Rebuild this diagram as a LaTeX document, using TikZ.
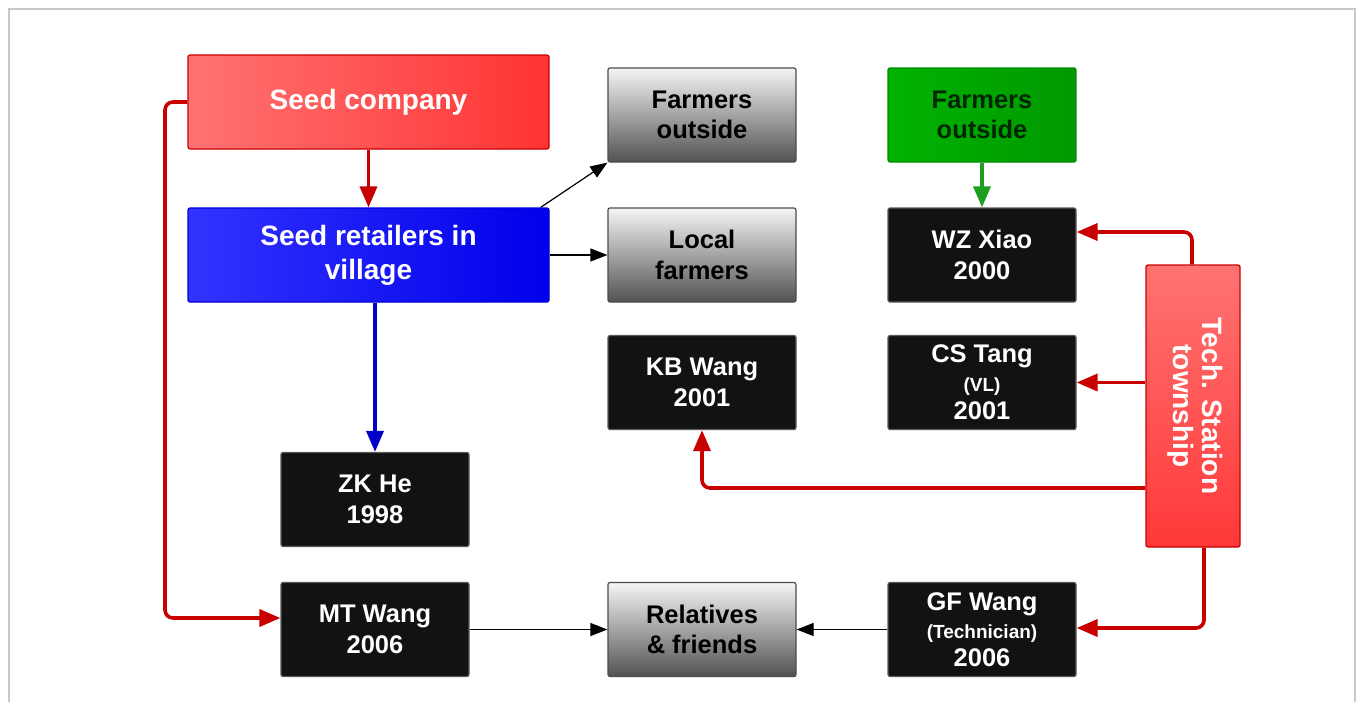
\documentclass[tikz,border=0pt]{standalone}
\usepackage{fontspec}
\setmainfont{Liberation Sans}
\usetikzlibrary{arrows.meta,calc}
\definecolor{linkred}{HTML}{C80000}
\definecolor{linkblue}{HTML}{0000C8}
\definecolor{linkgreen}{HTML}{1E9E1E}
\definecolor{framegrey}{HTML}{C8C8C8}
\begin{document}
\begin{tikzpicture}[x=1pt,y=-1pt,
  box/.style={rectangle,rounded corners=2pt,line width=1.2pt,align=center,
    inner sep=0pt,font=\bfseries\fontsize{25.5}{30.5}\selectfont},
  smallbox/.style={box,minimum width=188pt,minimum height=94pt},
  bigbox/.style={box,minimum width=361pt,minimum height=94pt,
    font=\bfseries\fontsize{28}{34}\selectfont,text=white},
  darkbox/.style={smallbox,fill=black!93,draw=black!65,text=white},
  greybox/.style={smallbox,top color=black!4,bottom color=black!68,draw=black!70,text=black},
  thicktip/.style={-{Triangle[length=21pt,width=17pt]}},
  redlink/.style={draw=linkred,line width=3.6pt,rounded corners=8pt,thicktip},
  thinlink/.style={draw=black,line width=1.2pt,-{Triangle[length=17pt,width=13pt]}}
]
\useasboundingbox (0,0) rectangle (1356,702);
% outer frame
\draw[framegrey,line width=2pt] (8.5,702) -- (8.5,8.5) -- (1354.5,8.5) -- (1354.5,702);

% boxes
\node[bigbox,left color=red!55!white,right color=red!80!white,draw=linkred] (sc) at (368.5,102) {Seed company};
\node[bigbox,left color=blue!80!white,right color=blue!92!black,draw=blue!85!black] (ret) at (368.5,255) {Seed retailers in\\village};
\node[greybox] (fo) at (702,115) {Farmers\\outside};
\node[greybox] (lf) at (702,255) {Local\\farmers};
\node[smallbox,left color=green!70!black,right color=green!60!black,draw=green!55!black,text=black!85!green] (fg) at (982,115) {Farmers\\outside};
\node[darkbox] (wz) at (982,255) {WZ Xiao\\2000};
\node[darkbox] (kb) at (702,382.5) {KB Wang\\2001};
\node[darkbox] (cs) at (982,382.5) {CS Tang\\[-2pt]{\fontsize{19}{26}\selectfont (VL)}\\[-2pt]2001};
\node[darkbox] (zk) at (375,499.5) {ZK He\\1998};
\node[darkbox] (mt) at (375,629.5) {MT Wang\\2006};
\node[greybox] (rel) at (702,629.5) {Relatives\\\& friends};
\node[darkbox] (gf) at (982,629.5) {GF Wang\\[-2pt]{\fontsize{19}{26}\selectfont (Technician)}\\[-3pt]2006};
\node[box,minimum width=94pt,minimum height=282pt,top color=red!55!white,bottom color=red!78!white,
  draw=linkred] (ts) at (1193,406) {};
\node[rotate=-90,align=center,text=white,font=\bfseries\fontsize{28}{29}\selectfont] (tslabel) at ([xshift=2pt]ts.center) {Tech. Station\\township};

% connectors
\draw[redlink] (sc.south) -- (ret.north);
\draw[redlink] (sc.west) -| (165,618) -- ([yshift=11.5pt]mt.west);
\draw[draw=linkblue,line width=3.6pt,thicktip] (zk.north |- ret.south) -- (zk.north);
\draw[thinlink] ([xshift=-9pt]ret.north east) -- (fo.south west);
\draw[thinlink] (ret.east) -- (lf.west);
\draw[draw=linkgreen,line width=3.6pt,thicktip] (fg.south) -- (wz.north);
\draw[redlink] ([xshift=-1pt]ts.north) |- ([yshift=23pt]wz.east);
\draw[redlink] (ts.west |- cs.east) -- (cs.east);
\draw[redlink] ([yshift=-82pt]ts.west) -| (kb.south);
\draw[redlink] ([xshift=11pt]ts.south) |- ([yshift=1.5pt]gf.east);
\draw[thinlink] (mt.east) -- (rel.west);
\draw[thinlink] (gf.west) -- (rel.east);
\end{tikzpicture}
\end{document}
